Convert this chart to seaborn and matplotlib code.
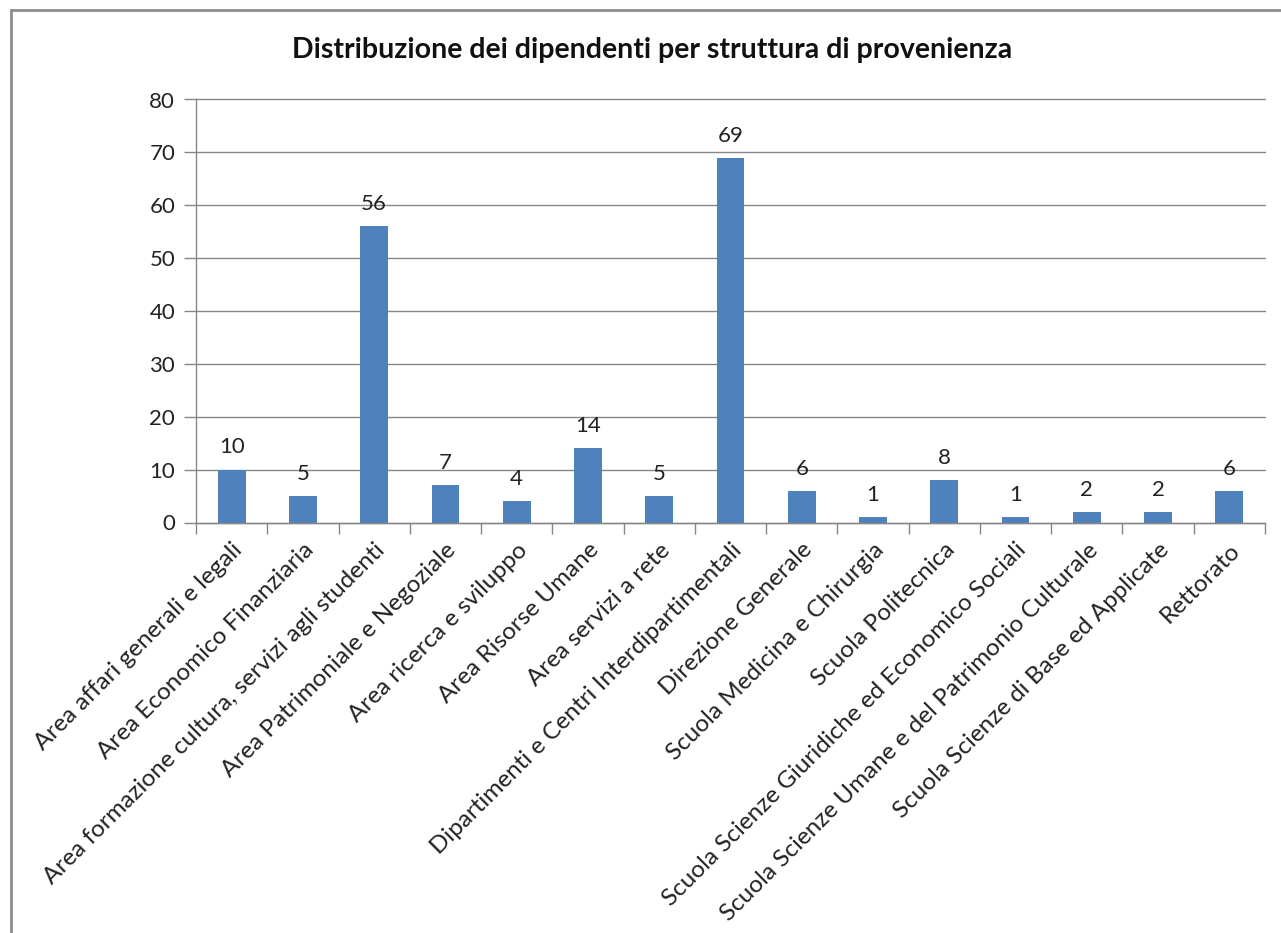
import matplotlib
matplotlib.use("Agg")
import matplotlib.pyplot as plt
import seaborn as sns
import pandas as pd
import numpy as np
from matplotlib.patches import Rectangle

strutture = [
    "Area affari generali e legali",
    "Area Economico Finanziaria",
    "Area formazione cultura, servizi agli studenti",
    "Area Patrimoniale e Negoziale",
    "Area ricerca e sviluppo",
    "Area Risorse Umane",
    "Area servizi a rete",
    "Dipartimenti e Centri Interdipartimentali",
    "Direzione Generale",
    "Scuola Medicina e Chirurgia",
    "Scuola Politecnica",
    "Scuola Scienze Giuridiche ed Economico Sociali",
    "Scuola Scienze Umane e del Patrimonio Culturale",
    "Scuola Scienze di Base ed Applicate",
    "Rettorato",
]
dipendenti = [10, 5, 56, 7, 4, 14, 5, 69, 6, 1, 8, 1, 2, 2, 6]
y_ticks = [0, 10, 20, 30, 40, 50, 60, 70, 80]

df = pd.DataFrame({"struttura": strutture, "dipendenti": dipendenti})

sns.set_theme(style="white")
plt.rcParams["font.family"] = ["Lato", "DejaVu Sans"]

W, H = 1281, 933
fig = plt.figure(figsize=(W / 100, H / 100), dpi=100)
ax = fig.add_axes([196 / W, 1 - 522.5 / H, (1265 - 196) / W, (522.5 - 99.5) / H])

grid_col = "#878787"
sns.barplot(data=df, x="struttura", y="dipendenti", color="#4F81BD",
            saturation=1, width=0.39, ax=ax)
for p in ax.patches:
    p.set_edgecolor("none")

ax.set_ylim(0, 80)
ax.set_xlim(-0.5, len(strutture) - 0.5)
ax.set_yticks(y_ticks)
ax.yaxis.grid(True, color=grid_col, linewidth=1)
for gl in ax.get_ygridlines():
    gl.set_clip_on(False)
ax.set_axisbelow(True)
ax.set_xlabel("")
ax.set_ylabel("")

for s in ["top", "right"]:
    ax.spines[s].set_visible(False)
for s in ["left", "bottom"]:
    ax.spines[s].set_color(grid_col)
    ax.spines[s].set_linewidth(1)

ax.tick_params(axis="y", length=9, width=1, color=grid_col, direction="out",
               labelsize=16, labelcolor="#222222", pad=6, left=True)
ax.set_xticks(range(len(strutture)))
ax.set_xticklabels(strutture, rotation=45, ha="right", rotation_mode="anchor",
                   fontsize=17.5, color="#222222")
ax.tick_params(axis="x", length=0, pad=12, bottom=True)
ax.set_xticks(np.arange(-0.5, len(strutture)), minor=True)
ax.tick_params(axis="x", which="minor", length=8, width=1, color=grid_col,
               direction="out", bottom=True)

for i, v in enumerate(dipendenti):
    ax.text(i, v + 2.3, str(v), ha="center", va="bottom", fontsize=16,
            color="#222222")

fig.text(652 / W, 1 - 50 / H, "Distribuzione dei dipendenti per struttura di provenienza",
         ha="center", va="center", fontsize=20.5, fontweight="bold", color="#111111")

fig.patches.append(Rectangle((11 / W, -0.1), 1.2, (1 - 10 / H) + 0.1,
                             transform=fig.transFigure, fill=False,
                             edgecolor="#8c8c8c", linewidth=2))

fig.savefig("out.png", dpi=100)
